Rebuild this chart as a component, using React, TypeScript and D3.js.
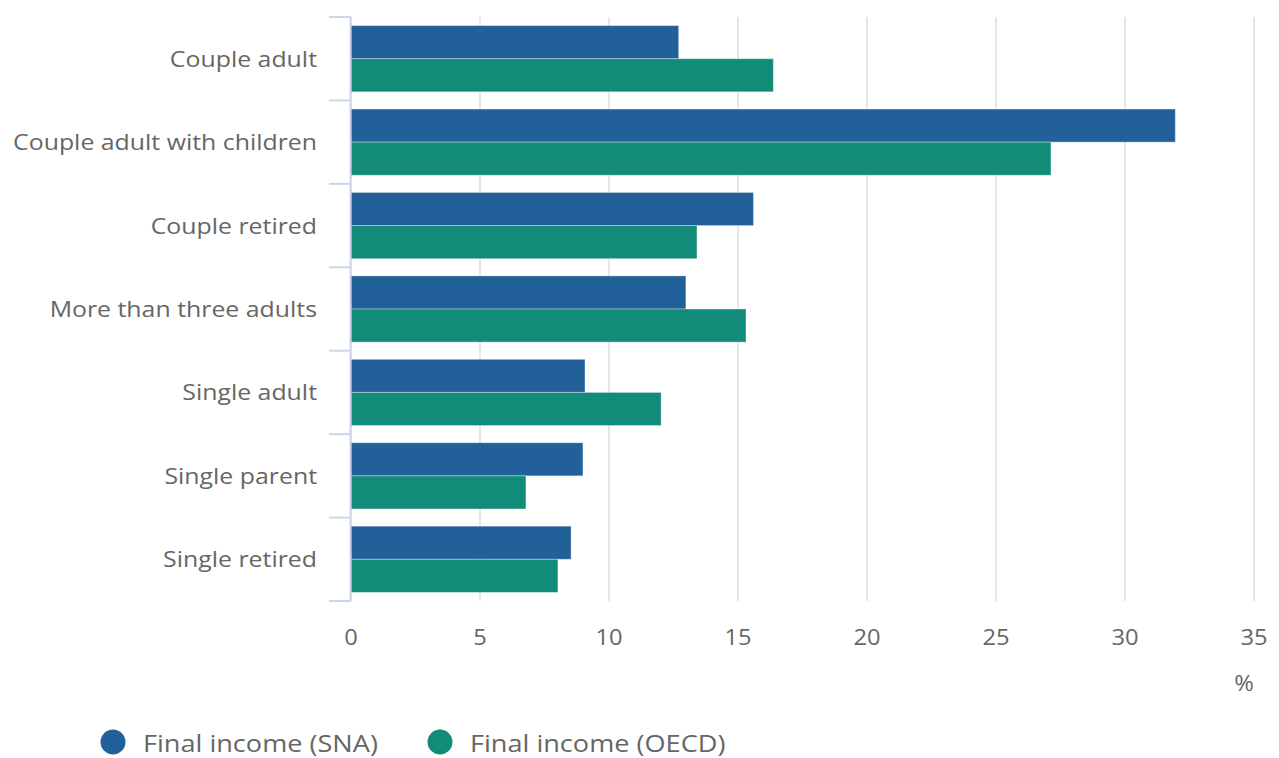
import { scaleLinear, scaleBand } from 'd3'

const categories = [
  'Couple adult',
  'Couple adult with children',
  'Couple retired',
  'More than three adults',
  'Single adult',
  'Single parent',
  'Single retired',
]
const snaValues = [12.7, 31.95, 15.6, 12.98, 9.07, 8.99, 8.53]
const oecdValues = [16.37, 27.13, 13.41, 15.31, 12.02, 6.78, 8.02]
const xTicks = [0, 5, 10, 15, 20, 25, 30, 35]
const seriesNames = ['Final income (SNA)', 'Final income (OECD)']
const seriesColors = ['#22609a', '#128b78']

// the reference text is a little wider than the font renders here
const SX = 1.13

function Label(props: { x: number; y: number; anchor: 'start' | 'middle' | 'end'; size: number; children: any }) {
  return (
    <text
      transform={`translate(${props.x},${props.y}) scale(${SX},1)`}
      textAnchor={props.anchor}
      fontFamily='"Open Sans", "Noto Sans", sans-serif'
      fontSize={props.size}
      fill="#666"
    >
      {props.children}
    </text>
  )
}

export default function App() {
  const width = 1279
  const height = 758
  const left = 351
  const right = 1254
  const top = 17
  const bottom = 601

  const x = scaleLinear().domain([0, 35]).range([left, right])
  const y = scaleBand<string>().domain(categories).range([top, bottom])
  const inner = scaleBand<number>()
    .domain([0, 1])
    .range([0, y.bandwidth()])
    .paddingOuter(0.26)
    .paddingInner(0)

  const series = [snaValues, oecdValues]

  return (
    <svg width={width} height={height} style={{ position: 'absolute', left: 0, top: 0 }}>
      <rect width={width} height={height} fill="#fff" />
      {xTicks.map((t) => (
        <line key={`g-${t}`} x1={x(t)} x2={x(t)} y1={top} y2={bottom} stroke="#e6e6e6" strokeWidth={2} />
      ))}
      {categories.map((c, i) =>
        series.map((vals, s) => (
          <rect
            key={`${c}-${s}`}
            x={x(0)}
            y={(y(c) ?? 0) + (inner(s) ?? 0)}
            width={x(vals[i]) - x(0)}
            height={inner.bandwidth()}
            fill={seriesColors[s]}
            stroke="#fff"
            strokeOpacity={0.35}
            strokeWidth={1}
          />
        )),
      )}
      <line x1={left - 0.5} x2={left - 0.5} y1={top} y2={bottom} stroke="#ccd6eb" strokeWidth={2} />
      {[...categories.map((c) => y(c) ?? 0), bottom].map((ty, i) => (
        <line key={`t-${i}`} x1={329} x2={left} y1={ty} y2={ty} stroke="#ccd6eb" strokeWidth={2} />
      ))}
      {categories.map((c) => (
        <Label key={`l-${c}`} x={317} y={(y(c) ?? 0) + y.bandwidth() / 2 + 8} anchor="end" size={22}>
          {c}
        </Label>
      ))}
      {xTicks.map((t) => (
        <Label key={`x-${t}`} x={x(t)} y={645} anchor="middle" size={21}>
          {t}
        </Label>
      ))}
      <Label x={1244} y={691} anchor="middle" size={21}>
        %
      </Label>
      {seriesNames.map((n, s) => {
        const lx = s === 0 ? 113 : 440
        return (
          <g key={n}>
            <circle cx={lx} cy={742} r={12.5} fill={seriesColors[s]} />
            <Label x={lx + 30} y={752} anchor="start" size={24}>
              {n}
            </Label>
          </g>
        )
      })}
    </svg>
  )
}
